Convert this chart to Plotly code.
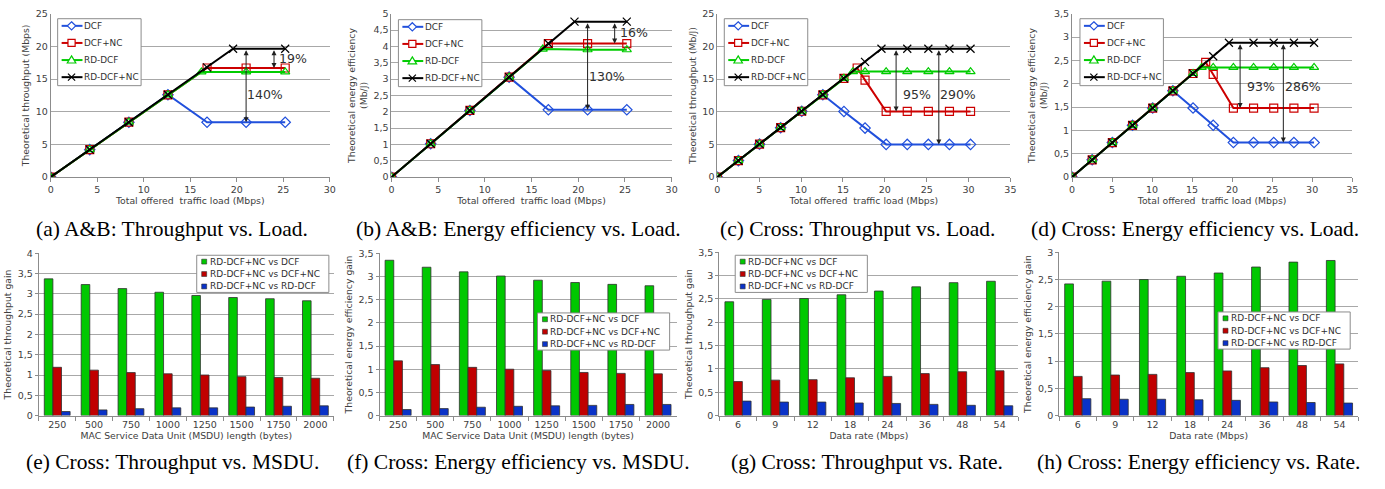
import plotly.graph_objects as go

W, H = 1385, 489

# ---------------- data ----------------
SERIES = ["DCF", "DCF+NC", "RD-DCF", "RD-DCF+NC"]

# (a) A&B throughput vs load
a_x = [0, 4.2, 8.4, 12.6, 16.8, 21, 25.2]
a_rd_x = [0, 4.2, 8.4, 12.6, 16.2, 21, 25.2]
a_rdnc_x = [0, 4.2, 8.4, 12.6, 16.8, 19.6, 25.2]
a_dcf = [0, 4.2, 8.4, 12.6, 8.4, 8.4, 8.4]
a_dcfnc = [0, 4.2, 8.4, 12.6, 16.7, 16.7, 16.7]
a_rd = [0, 4.2, 8.4, 12.6, 16.1, 16.1, 16.1]
a_rdnc = [0, 4.2, 8.4, 12.6, 16.8, 19.65, 19.65]

# (b) A&B energy efficiency vs load
b_dcf = [0, 1.02, 2.04, 3.06, 2.06, 2.06, 2.06]
b_dcfnc = [0, 1.02, 2.04, 3.06, 4.09, 4.09, 4.09]
b_rd = [0, 1.02, 2.04, 3.06, 3.92, 3.9, 3.9]
b_rdnc = [0, 1.02, 2.04, 3.06, 4.09, 4.76, 4.76]

# (c) Cross throughput vs load
c_x = [0, 2.52, 5.04, 7.56, 10.08, 12.6, 15.12, 17.64, 20.16, 22.68, 25.2, 27.72, 30.24]
c_dcfnc_x = [0, 2.52, 5.04, 7.56, 10.08, 12.6, 15.12, 16.7, 17.64, 20.16, 22.68, 25.2, 27.72, 30.24]
c_rd_x = [0, 2.52, 5.04, 7.56, 10.08, 12.6, 15.12, 16.2, 17.64, 20.16, 22.68, 25.2, 27.72, 30.24]
c_rdnc_x = [0, 2.52, 5.04, 7.56, 10.08, 12.6, 15.12, 17.64, 19.6, 22.68, 25.2, 27.72, 30.24]
c_dcf = [0, 2.52, 5.04, 7.56, 10.08, 12.6, 10.05, 7.5, 5.0, 5.0, 5.0, 5.0, 5.0]
c_dcfnc = [0, 2.52, 5.04, 7.56, 10.08, 12.6, 15.12, 16.7, 14.85, 10.05, 10.05, 10.05, 10.05, 10.05]
c_rd = [0, 2.52, 5.04, 7.56, 10.08, 12.6, 15.12, 16.15, 16.15, 16.15, 16.15, 16.15, 16.15, 16.15]
c_rdnc = [0, 2.52, 5.04, 7.56, 10.08, 12.6, 15.12, 17.64, 19.65, 19.65, 19.65, 19.65, 19.65]

# (d) Cross energy efficiency vs load
d_dcf = [0, 0.37, 0.74, 1.11, 1.48, 1.85, 1.48, 1.11, 0.74, 0.74, 0.74, 0.74, 0.74]
d_dcfnc = [0, 0.37, 0.74, 1.11, 1.48, 1.85, 2.22, 2.46, 2.2, 1.48, 1.48, 1.48, 1.48, 1.48]
d_rd = [0, 0.37, 0.74, 1.11, 1.48, 1.85, 2.22, 2.35, 2.35, 2.35, 2.35, 2.35, 2.35, 2.35]
d_rdnc = [0, 0.37, 0.74, 1.11, 1.48, 1.85, 2.22, 2.59, 2.88, 2.88, 2.88, 2.88, 2.88]

# bar charts
BAR_NAMES = ["RD-DCF+NC vs DCF", "RD-DCF+NC vs DCF+NC", "RD-DCF+NC vs RD-DCF"]
msdu = ["250", "500", "750", "1000", "1250", "1500", "1750", "2000"]
rate = ["6", "9", "12", "18", "24", "36", "48", "54"]

e_vs_dcf = [3.37, 3.23, 3.13, 3.04, 2.96, 2.91, 2.88, 2.83]
e_vs_dcfnc = [1.19, 1.12, 1.06, 1.03, 1.0, 0.96, 0.94, 0.92]
e_vs_rd = [0.10, 0.14, 0.17, 0.19, 0.19, 0.21, 0.23, 0.24]

f_vs_dcf = [3.35, 3.2, 3.1, 3.01, 2.92, 2.87, 2.83, 2.8]
f_vs_dcfnc = [1.18, 1.1, 1.04, 1.0, 0.97, 0.93, 0.91, 0.9]
f_vs_rd = [0.13, 0.15, 0.18, 0.2, 0.21, 0.22, 0.24, 0.24]

g_vs_dcf = [2.44, 2.49, 2.51, 2.59, 2.67, 2.76, 2.85, 2.88]
g_vs_dcfnc = [0.73, 0.76, 0.77, 0.81, 0.84, 0.9, 0.94, 0.96]
g_vs_rd = [0.31, 0.29, 0.29, 0.27, 0.26, 0.24, 0.22, 0.21]

h_vs_dcf = [2.42, 2.47, 2.5, 2.56, 2.62, 2.73, 2.82, 2.85]
h_vs_dcfnc = [0.72, 0.745, 0.757, 0.79, 0.82, 0.88, 0.92, 0.95]
h_vs_rd = [0.31, 0.3, 0.3, 0.29, 0.28, 0.25, 0.24, 0.23]

CAPTIONS = [
    "(a) A&B: Throughput vs. Load.",
    "(b) A&B: Energy efficiency vs. Load.",
    "(c) Cross: Throughput vs. Load.",
    "(d) Cross: Energy efficiency vs. Load.",
    "(e) Cross: Throughput vs. MSDU.",
    "(f) Cross: Energy efficiency vs. MSDU.",
    "(g) Cross: Throughput vs. Rate.",
    "(h) Cross: Energy efficiency vs. Rate.",
]

# ---------------- styles ----------------
FONT = "DejaVu Sans"
LINE_COLORS = ["#2150DC", "#CC0000", "#00CC00", "#000000"]
SYMBOLS = ["diamond-open", "square-open", "triangle-up-open", "x-thin-open"]
BAR_COLORS = ["#00C800", "#C00000", "#0A32C8"]
GRID = "#A8A8A8"
AXLINE = "#8C8C8C"
TXT = "#404040"


def fx(px):
    return px / W


def fy(py):
    return 1 - py / H


# panel plot areas in pixels (x0, x1, ytop, ybottom)
PANELS = [
    (48, 329, 8, 175),
    (391, 673, 8, 175),
    (719, 1014, 8, 175),
    (1076, 1358, 8, 175),
    (36, 333, 253, 419),
    (379, 678, 253, 419),
    (721, 1022, 252, 419),
    (1063, 1364, 252, 419),
]

fig = go.Figure()


def add_lines(idx, xs_list, ys_list):
    sfx = "" if idx == 1 else str(idx)
    for k in range(4):
        fig.add_trace(go.Scatter(
            x=xs_list[k], y=ys_list[k], name=SERIES[k], mode="lines+markers",
            showlegend=False,
            line=dict(color=LINE_COLORS[k], width=2),
            marker=dict(symbol=SYMBOLS[k], size=8, color=LINE_COLORS[k],
                        line=dict(width=1.2, color=LINE_COLORS[k])),
            xaxis="x" + sfx, yaxis="y" + sfx,
        ))


def add_bars(idx, cats, vals_list):
    sfx = "" if idx == 1 else str(idx)
    for k in range(3):
        fig.add_trace(go.Bar(
            x=cats, y=vals_list[k], name=BAR_NAMES[k], showlegend=False,
            marker=dict(color=BAR_COLORS[k], line=dict(color="#303030", width=0.8)),
            xaxis="x" + sfx, yaxis="y" + sfx, offsetgroup=str(k),
        ))


add_lines(1, [a_x, a_x, a_rd_x, a_rdnc_x], [a_dcf, a_dcfnc, a_rd, a_rdnc])
add_lines(2, [a_x, a_x, a_rd_x, a_rdnc_x], [b_dcf, b_dcfnc, b_rd, b_rdnc])
add_lines(3, [c_x, c_dcfnc_x, c_rd_x, c_rdnc_x], [c_dcf, c_dcfnc, c_rd, c_rdnc])
add_lines(4, [c_x, c_dcfnc_x, c_rd_x, c_rdnc_x], [d_dcf, d_dcfnc, d_rd, d_rdnc])
add_bars(5, msdu, [e_vs_dcf, e_vs_dcfnc, e_vs_rd])
add_bars(6, msdu, [f_vs_dcf, f_vs_dcfnc, f_vs_rd])
add_bars(7, rate, [g_vs_dcf, g_vs_dcfnc, g_vs_rd])
add_bars(8, rate, [h_vs_dcf, h_vs_dcfnc, h_vs_rd])

# axes config
Y_CFG = [
    ((0, 25), 5, "Theoretical throughput (Mbps)"),
    ((0, 5), 0.5, "Theoretical energy efficiency<br>(Mb/J)"),
    ((0, 25), 5, "Theoretical throughput (Mb/J)"),
    ((0, 3.5), 0.5, "Theoretical energy efficiency<br>(Mb/J)"),
    ((0, 4), 0.5, "Theoretical throughput gain"),
    ((0, 3.5), 0.5, "Theoretical energy efficiency gain"),
    ((0, 3.5), 0.5, "Theoretical throughput gain"),
    ((0, 3), 0.5, "Theoretical energy efficiency gain"),
]
LOAD_T = "Total offered  traffic load (Mbps)"
X_CFG = [
    ((0, 30), LOAD_T),
    ((0, 30), LOAD_T),
    ((0, 35), LOAD_T),
    ((0, 35), LOAD_T),
    (None, "MAC Service Data Unit (MSDU) length (bytes)"),
    (None, "MAC Service Data Unit (MSDU) length (bytes)"),
    (None, "Data rate (Mbps)"),
    (None, "Data rate (Mbps)"),
]

tick_font = dict(family=FONT, size=9.5, color=TXT)
title_font = dict(family=FONT, size=9.3, color=TXT)

layout = dict(
    width=W, height=H, margin=dict(l=0, r=0, t=0, b=0),
    paper_bgcolor="white", plot_bgcolor="white",
    separators=",.", barmode="group", bargap=0.3, bargroupgap=0,
    showlegend=False, font=dict(family=FONT, color=TXT),
)

for i in range(8):
    sfx = "" if i == 0 else str(i + 1)
    x0, x1, yt, yb = PANELS[i]
    (yr, dt, ytitle) = Y_CFG[i]
    (xr, xtitle) = X_CFG[i]
    xa = dict(domain=[fx(x0), fx(x1)], anchor="y" + sfx,
              showgrid=False, zeroline=False, showline=True, linecolor=AXLINE, linewidth=1,
              ticks="outside", ticklen=4, tickcolor=AXLINE, tickfont=tick_font,
              title=dict(text=xtitle, font=title_font, standoff=2))
    if xr is not None:
        xa.update(range=list(xr), dtick=5, tick0=0)
    else:
        xa.update(type="category", tickson="boundaries")
    ya = dict(domain=[fy(yb), fy(yt)], anchor="x" + sfx, range=list(yr), dtick=dt, tick0=0,
              showgrid=True, gridcolor=GRID, gridwidth=1, zeroline=False,
              showline=True, linecolor=AXLINE, linewidth=1,
              ticks="outside" if i >= 4 else "", ticklen=3, tickcolor=AXLINE,
              tickfont=tick_font,
              title=dict(text=ytitle, font=title_font, standoff=4))
    layout["xaxis" + sfx] = xa
    layout["yaxis" + sfx] = ya

fig.update_layout(**layout)


def P(px, py):
    return f"{fx(px):.6f},{fy(py):.6f}"


def marker_path(k, cx, cy):
    if k == 0:   # diamond
        r = 4.2
        return f"M{P(cx, cy - r)} L{P(cx + r, cy)} L{P(cx, cy + r)} L{P(cx - r, cy)} Z"
    if k == 1:   # square
        r = 3.6
        return (f"M{P(cx - r, cy - r)} L{P(cx + r, cy - r)} L{P(cx + r, cy + r)} "
                f"L{P(cx - r, cy + r)} Z")
    if k == 2:   # triangle
        r = 4.3
        return f"M{P(cx, cy - r)} L{P(cx + r, cy + 3)} L{P(cx - r, cy + 3)} Z"
    r = 3.6      # x
    return (f"M{P(cx - r, cy - r)} L{P(cx + r, cy + r)} "
            f"M{P(cx - r, cy + r)} L{P(cx + r, cy - r)}")


# line-chart legend keys: box + line samples + symbols + real text
LINE_LEG_POS = [(55, 13), (398, 14), (726, 13), (1084, 13)]
for (lx, ly) in LINE_LEG_POS:
    fig.add_shape(type="rect", xref="paper", yref="paper",
                  x0=fx(lx), x1=fx(lx + 84), y0=fy(ly + 68.5), y1=fy(ly),
                  line=dict(color="#8C8C8C", width=1), fillcolor="white", layer="above")
    for k in range(4):
        cy = ly + 7.3 + 17.5 * k
        fig.add_shape(type="line", xref="paper", yref="paper",
                      x0=fx(lx + 4), x1=fx(lx + 25), y0=fy(cy), y1=fy(cy),
                      line=dict(color=LINE_COLORS[k], width=2), layer="above")
        fig.add_shape(type="path", xref="paper", yref="paper",
                      path=marker_path(k, lx + 14, cy),
                      line=dict(color=LINE_COLORS[k], width=1.2),
                      fillcolor="white" if k < 3 else None, layer="above")
        fig.add_annotation(text=SERIES[k], x=fx(lx + 25), y=fy(cy), xref="paper",
                           yref="paper", showarrow=False, xanchor="left", yanchor="middle",
                           font=dict(family=FONT, size=8.9, color="#303030"))

# bar-chart legend keys
BAR_LEG_POS = [(195, 255), (538, 314), (737, 255), (1223, 313)]
for (lx, ly) in BAR_LEG_POS:
    fig.add_shape(type="rect", xref="paper", yref="paper",
                  x0=fx(lx), x1=fx(lx + 133), y0=fy(ly + 38), y1=fy(ly),
                  line=dict(color="#8C8C8C", width=1), fillcolor="white", layer="above")
    for k in range(3):
        cy = ly + 6.5 + 12.7 * k
        fig.add_shape(type="rect", xref="paper", yref="paper",
                      x0=fx(lx + 5), x1=fx(lx + 10), y0=fy(cy + 2.5), y1=fy(cy - 2.5),
                      line=dict(color="#303030", width=0.6), fillcolor=BAR_COLORS[k],
                      layer="above")
        fig.add_annotation(text=BAR_NAMES[k], x=fx(lx + 11), y=fy(cy), xref="paper",
                           yref="paper", showarrow=False, xanchor="left", yanchor="middle",
                           font=dict(family=FONT, size=9, color="#303030"))

# captions
CAP_POS = [(170, 228), (519, 228), (861, 228), (1200, 228),
           (171, 467), (519, 467), (870, 467), (1203, 467)]
for t, (cx, cy) in zip(CAPTIONS, CAP_POS):
    fig.add_annotation(text=t, x=fx(cx), y=fy(cy), xref="paper", yref="paper",
                       showarrow=False, xanchor="center", yanchor="middle",
                       font=dict(family="Liberation Serif", size=21.5, color="black"))


# gain arrows and labels
def darrow(idx, x, y_top, y_bot):
    sfx = "" if idx == 1 else str(idx)
    fig.add_annotation(x=x, y=y_bot, ax=x, ay=y_top, xref="x" + sfx, yref="y" + sfx,
                       axref="x" + sfx, ayref="y" + sfx, text="", showarrow=True,
                       arrowhead=2, arrowside="end+start", arrowsize=1, arrowwidth=1,
                       arrowcolor="#202020", standoff=0, startstandoff=0)


def label(idx, x, y, t):
    sfx = "" if idx == 1 else str(idx)
    fig.add_annotation(x=x, y=y, xref="x" + sfx, yref="y" + sfx, text=t, showarrow=False,
                       font=dict(family=FONT, size=12.5, color="#303030"))


darrow(1, 21, a_rdnc[-1], a_dcf[-1])
darrow(1, 24, a_rdnc[-1], a_dcfnc[-1])
label(1, 26.0, 18.2, "19%")
label(1, 23.0, 12.7, "140%")

darrow(2, 21, b_rdnc[-1], b_dcf[-1])
darrow(2, 23.9, b_rdnc[-1], b_dcfnc[-1])
label(2, 26.0, 4.44, "16%")
label(2, 23.1, 3.09, "130%")

darrow(3, 21.35, c_rdnc[-1], c_dcfnc[-1])
darrow(3, 26.45, c_rdnc[-1], c_dcf[-1])
label(3, 23.8, 12.7, "95%")
label(3, 28.8, 12.7, "290%")

darrow(4, 21.0, d_rdnc[-1], d_dcfnc[-1])
darrow(4, 26.4, d_rdnc[-1], d_dcf[-1])
label(4, 23.6, 1.94, "93%")
label(4, 28.8, 1.94, "286%")

fig.write_html(
    "out.html",
    config={"displayModeBar": False},
    post_script="document.body.style.margin='0';document.body.style.overflow='hidden';",
)
